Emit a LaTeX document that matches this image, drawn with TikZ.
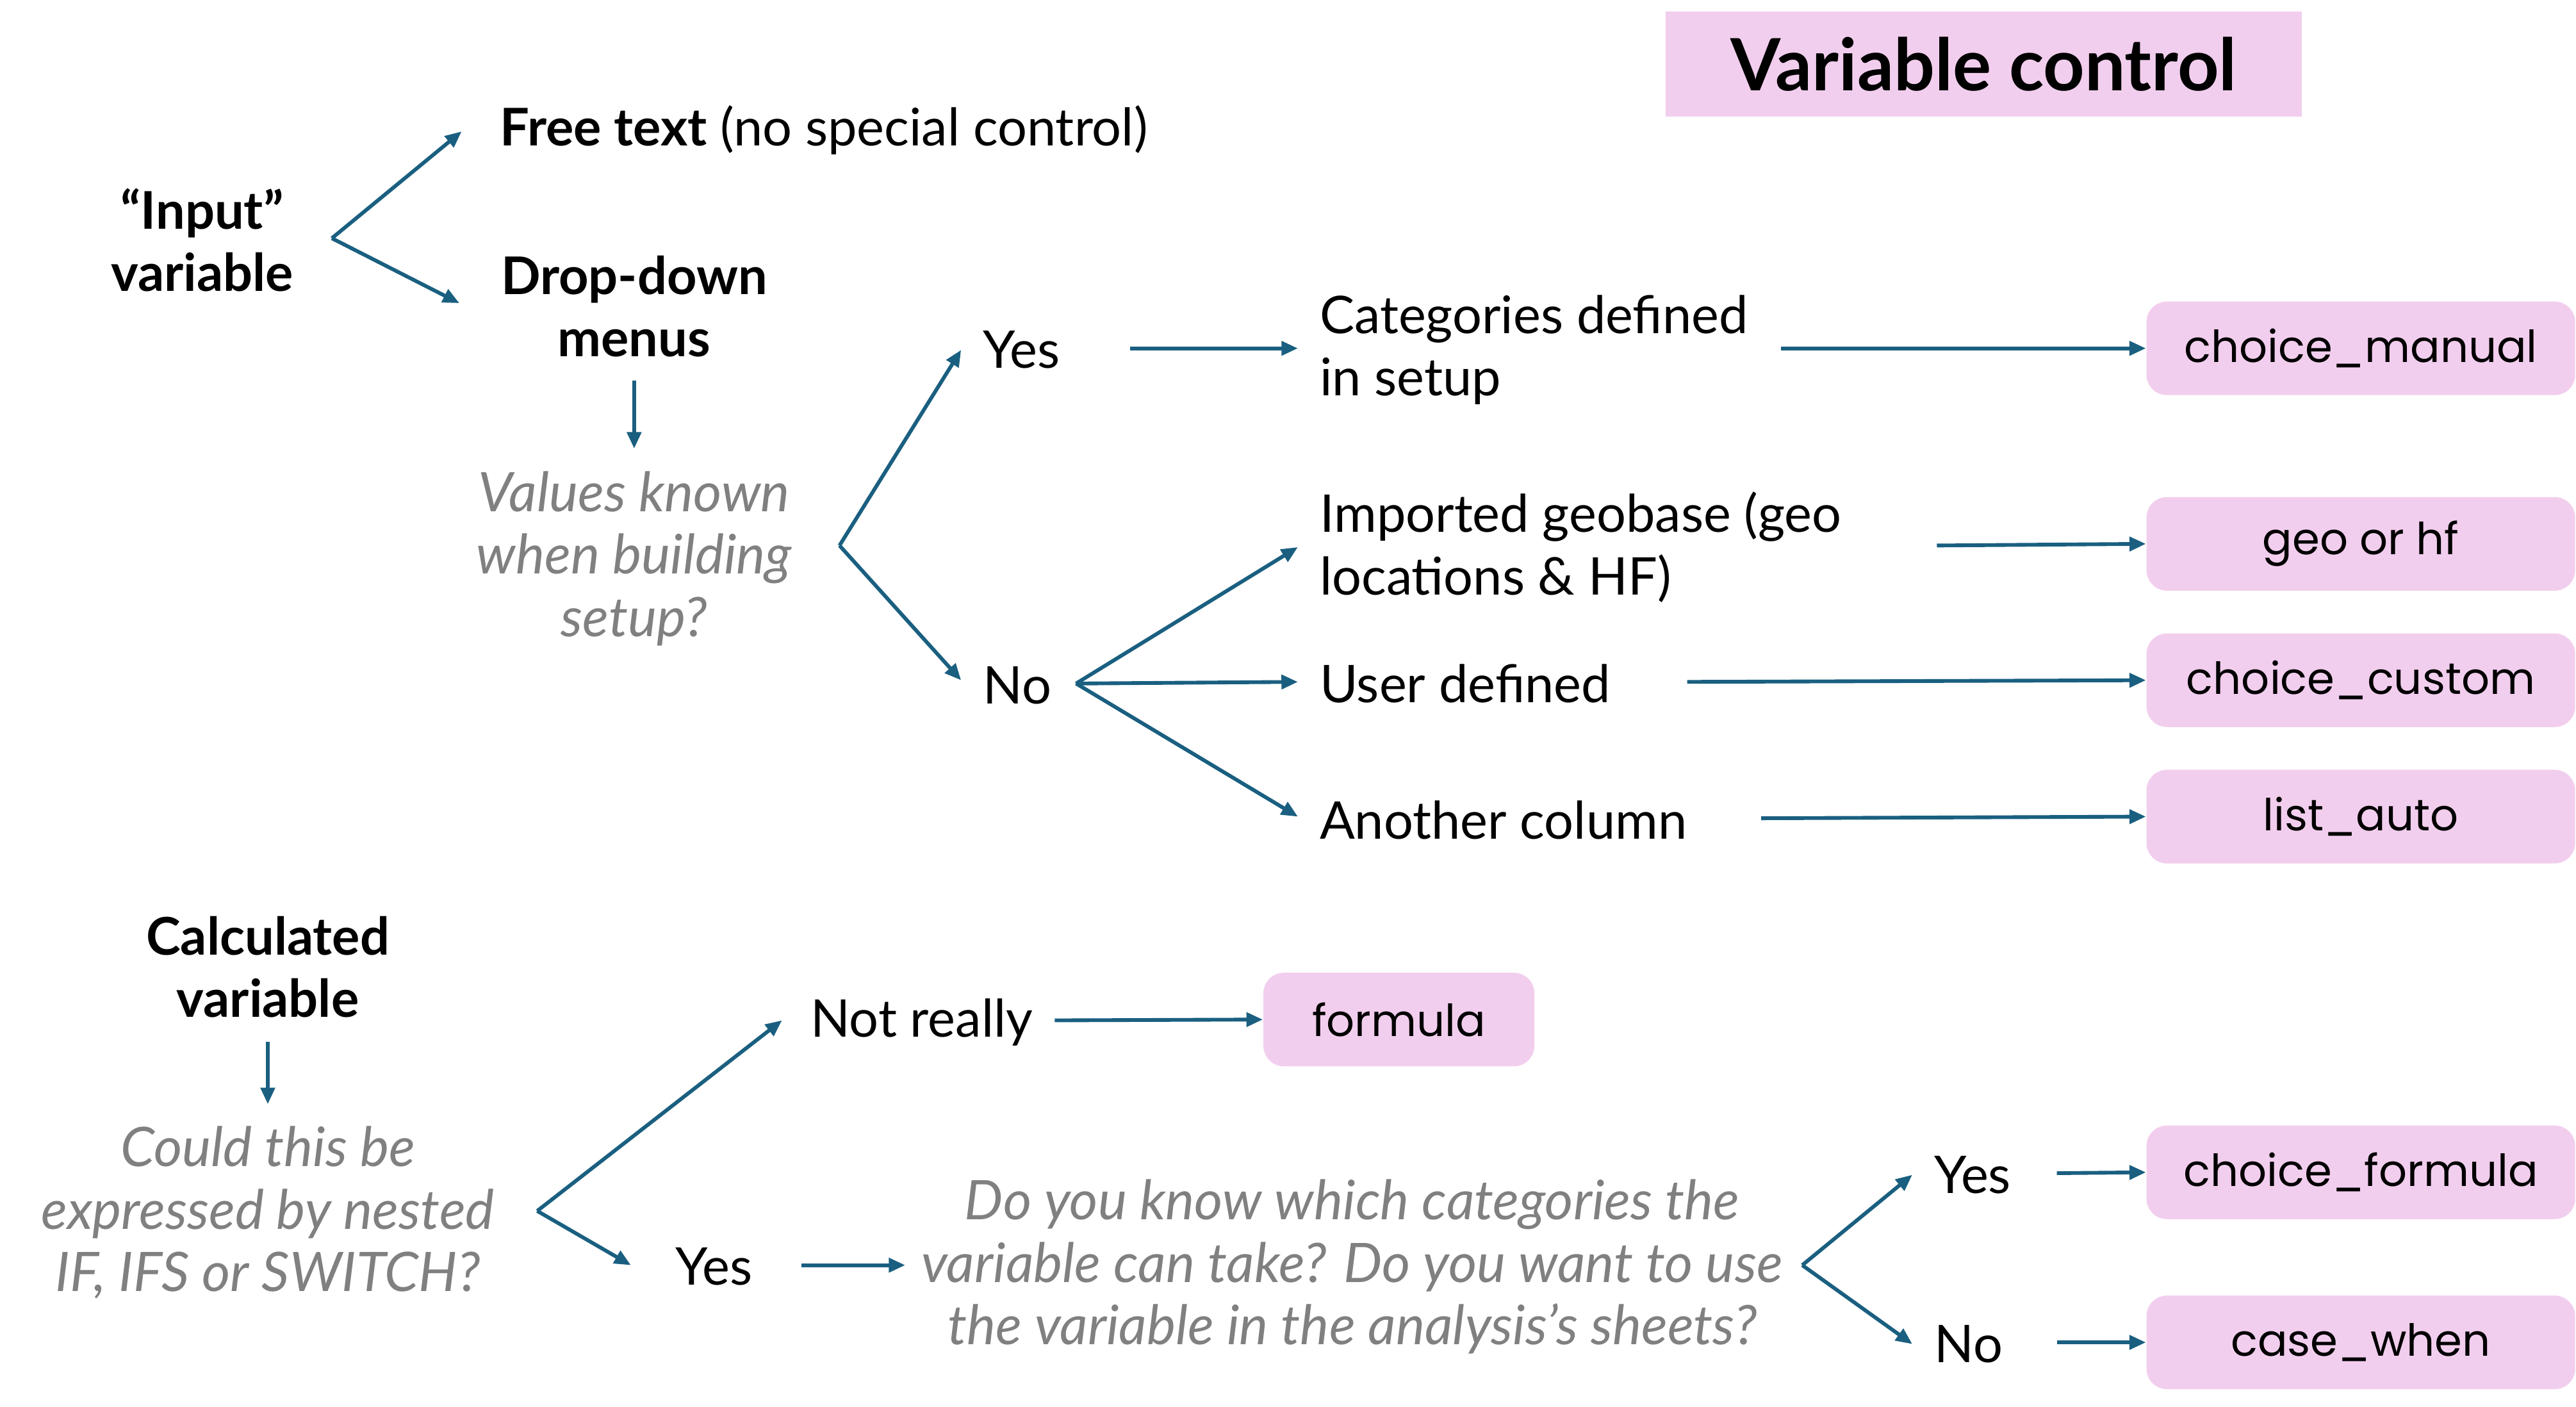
\documentclass[tikz,border=0pt]{standalone}
\usepackage{fontspec}
\setmainfont{Lato}
\newfontfamily\codefont{Poppins}
\usetikzlibrary{positioning,arrows.meta,calc}
\definecolor{arrowblue}{HTML}{1A5F80}
\definecolor{boxpink}{HTML}{F2CEEE}
\definecolor{askgray}{HTML}{808080}

\begin{document}
\begin{tikzpicture}[x=0.02cm,y=-0.02cm,
  font=\fontsize{18}{21.6}\selectfont,
  txt/.style={inner sep=0pt,anchor=west,align=left},
  head/.style={inner sep=0pt,align=center,font=\fontsize{18}{21.6}\selectfont\bfseries},
  ask/.style={inner sep=0pt,align=center,text=askgray,font=\fontsize{18.9}{21.6}\selectfont\itshape},
  res/.style={fill=boxpink,rounded corners=0.25cm,minimum width=5.22cm,minimum height=1.14cm,inner sep=0pt,font=\fontsize{15.3}{18}\selectfont\codefont},
  arr/.style={draw=arrowblue,line width=1.3pt,-{Triangle[length=0.2cm,width=0.17cm]}}]

\useasboundingbox (0,0) rectangle (1568,856);

% title
\node[fill=boxpink,minimum width=7.74cm,minimum height=1.28cm,font=\fontsize{25}{28}\selectfont\bfseries] (title) at (1207.5,39) {Variable control};

% input variable
\node[head] (input) at (123,146) {“Input”\\variable};
\node[txt] (free) at (304,79) {\textbf{Free text} (no special control)};
\node[head] (drop) at (386,186.5) {Drop-down\\menus};
\node[ask] (known) at (386,340) {Values known\\when building\\setup?};
\coordinate (j1) at (202,145);
\draw[arr] (j1) -- ($(free.west)+(-23,1)$);
\draw[arr] (j1) -- ($(drop.west)+(-25,-2)$);
\draw[arr] ($(drop.center)+(0,45)$) -- ($(known.center)+(0,-67)$);

% yes / no
\coordinate (j2) at (511,332);
\node[txt] (yes1) at (598,213) {Yes};
\node[txt] (no1) at (598,417) {No};
\draw[arr] (j2) -- ($(yes1.west)+(-13,0)$);
\draw[arr] (j2) -- ($(no1.west)+(-13,-3)$);

\node[txt] (cat) at (803,213) {Categories defined\\in setup};
\node[txt] (geo) at (803,333) {Imported geobase (geo\\locations \& HF)};
\node[txt] (user) at (803,416) {User defined};
\node[txt] (other) at (803,499) {Another column};
\draw[arr] ($(yes1.west)+(90,-1)$) -- ($(cat.west)+(-13,-1)$);
\coordinate (j3) at (655,416);
\draw[arr] (j3) -- ($(geo.west)+(-13,0)$);
\draw[arr] (j3) -- ($(user.west)+(-13,-1)$);
\draw[arr] (j3) -- ($(other.west)+(-13,-2)$);

\node[res] (manual) at (1437,212) {choice\_manual};
\node[res] (geohf) at (1437,331) {geo or hf};
\node[res] (custom) at (1437,414) {choice\_custom};
\node[res] (auto) at (1437,497) {list\_auto};
\draw[arr] ($(cat.west)+(281,-1)$) -- (manual.west);
\draw[arr] ($(geo.west)+(376,-1)$) -- (geohf.west);
\draw[arr] ($(user.west)+(224,-1)$) -- (custom.west);
\draw[arr] ($(other.west)+(269,-1)$) -- (auto.west);

% calculated variable
\node[head] (calc) at (163,588.5) {Calculated\\variable};
\node[ask] (nested) at (163,738) {Could this be\\expressed by nested\\IF, IFS or SWITCH?};
\draw[arr] ($(calc.center)+(0,45.5)$) -- ($(nested.center)+(0,-66)$);
\coordinate (j4) at (327,737);
\node[txt] (notreally) at (493,622) {Not really};
\node[txt] (yes2) at (411,771) {Yes};
\draw[arr] (j4) -- ($(notreally.west)+(-17,-1)$);
\draw[arr] (j4) -- ($(yes2.west)+(-27,-1)$);
\node[res,minimum width=3.3cm] (formula) at (851.5,620.5) {formula};
\draw[arr] ($(notreally.west)+(149,-1)$) -- (formula.west);

\node[ask] (cats) at (823,771) {Do you know which categories the\\variable can take? Do you want to use\\the variable in the analysis's sheets?};
\draw[arr] ($(yes2.west)+(77,-1)$) -- ($(cats.center)+(-272,-1)$);
\coordinate (j5) at (1097,770);
\node[txt] (yes3) at (1177,715) {Yes};
\node[txt] (no3) at (1177,818) {No};
\draw[arr] (j5) -- ($(yes3.west)+(-13,0)$);
\draw[arr] (j5) -- ($(no3.west)+(-13,0)$);
\node[res] (cformula) at (1437,713.5) {choice\_formula};
\node[res] (casewhen) at (1437,817) {case\_when};
\draw[arr] ($(yes3.west)+(75,-1)$) -- (cformula.west);
\draw[arr] ($(no3.west)+(75,-1)$) -- (casewhen.west);
\end{tikzpicture}
\end{document}
